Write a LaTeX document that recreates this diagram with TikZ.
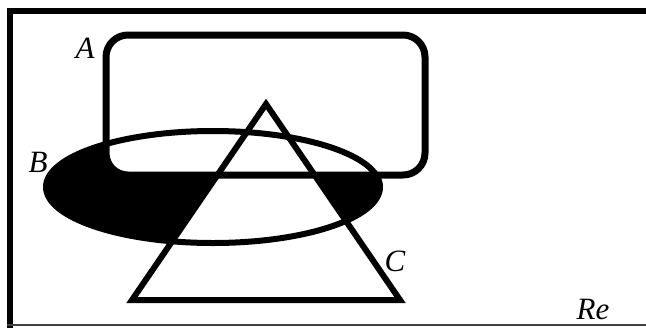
\documentclass[tikz,border=0pt]{standalone}
\usepackage{fontspec}
\setmainfont{Liberation Serif}
\begin{document}
\begin{tikzpicture}[x=0.5pt, y=-0.5pt, line join=miter,
  trait/.style={line width=3pt},
  etiquette/.style={font=\fontsize{15.5}{18}\selectfont\itshape, inner sep=0pt}]
  \useasboundingbox (0,0) rectangle (646,327);
  \clip (0,0) rectangle (646,327);
  % Zone noire : ellipse privee du rectangle et du triangle
  \begin{scope}
    \clip (213,187) ellipse (167 and 56);
    \fill[black] (30,110) rectangle (400,260);
    \fill[white, rounded corners=11pt] (106,35) rectangle (425,175);
    \fill[white] (266,104) -- (132,300) -- (400,300) -- cycle;
  \end{scope}
  % Ensembles A, B, C
  \draw[trait, line width=3.5pt, rounded corners=11pt] (106,35) rectangle (425,175);
  \draw[trait] (213,187) ellipse (167 and 56);
  \draw[trait] (266,104) -- (132,300) -- (400,300) -- cycle;
  % Cadre (coupe a droite)
  \draw[trait] (10,340) -- (10,11) -- (660,11);
  \draw[line width=1pt, black!75] (7,325) -- (660,325);
  % Etiquettes
  \node[etiquette] (labA) at (85,48) {A};
  \node[etiquette] (labB) at (38,162) {B};
  \node[etiquette] (labC) at (395,261) {C};
  \node[etiquette] (labRe) at (593,309) {Re};
\end{tikzpicture}
\end{document}
